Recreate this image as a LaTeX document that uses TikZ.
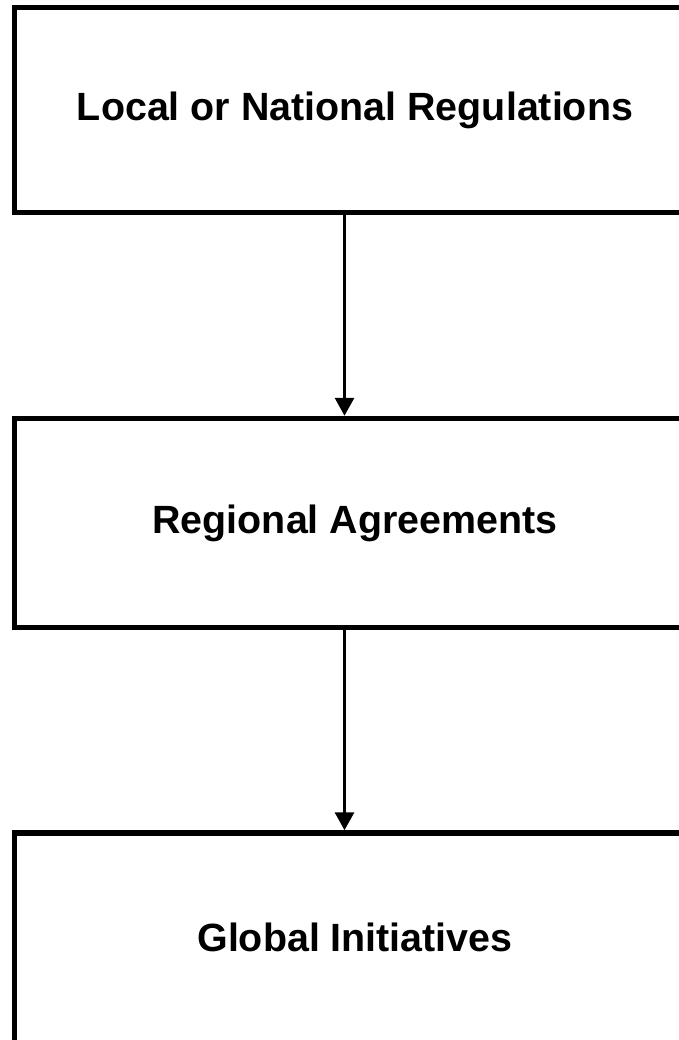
\documentclass[tikz,border=0pt]{standalone}
\usepackage{fontspec}
\setmainfont{Liberation Sans}
\usepackage{tikz}
\usetikzlibrary{arrows.meta}

\begin{document}
\begin{tikzpicture}[x=1pt, y=-1pt,
		level/.style={draw, line width=5.5pt, minimum width=681pt, minimum height=207pt,
			font=\fontsize{39.4}{47}\selectfont\bfseries},
		flow/.style={line width=3.2pt, -{Triangle[width=19pt,length=18pt]}}]
		\clip (0,0) rectangle (679,1040);
		\useasboundingbox (0,0) rectangle (679,1040);
		\node[level, minimum height=205pt] (local) at (355,110) {Local or National Regulations};
		\node[level, minimum height=209pt] (regional) at (355,523) {Regional Agreements};
		\node[level, minimum height=218pt, text depth=10pt] (global) at (355,942) {Global Initiatives};
		\draw[flow] ([xshift=-10.5pt]local.south) -- ([xshift=-10.5pt]regional.north);
		\draw[flow] ([xshift=-10.5pt]regional.south) -- ([xshift=-10.5pt]global.north);
		\end{tikzpicture}
\end{document}
